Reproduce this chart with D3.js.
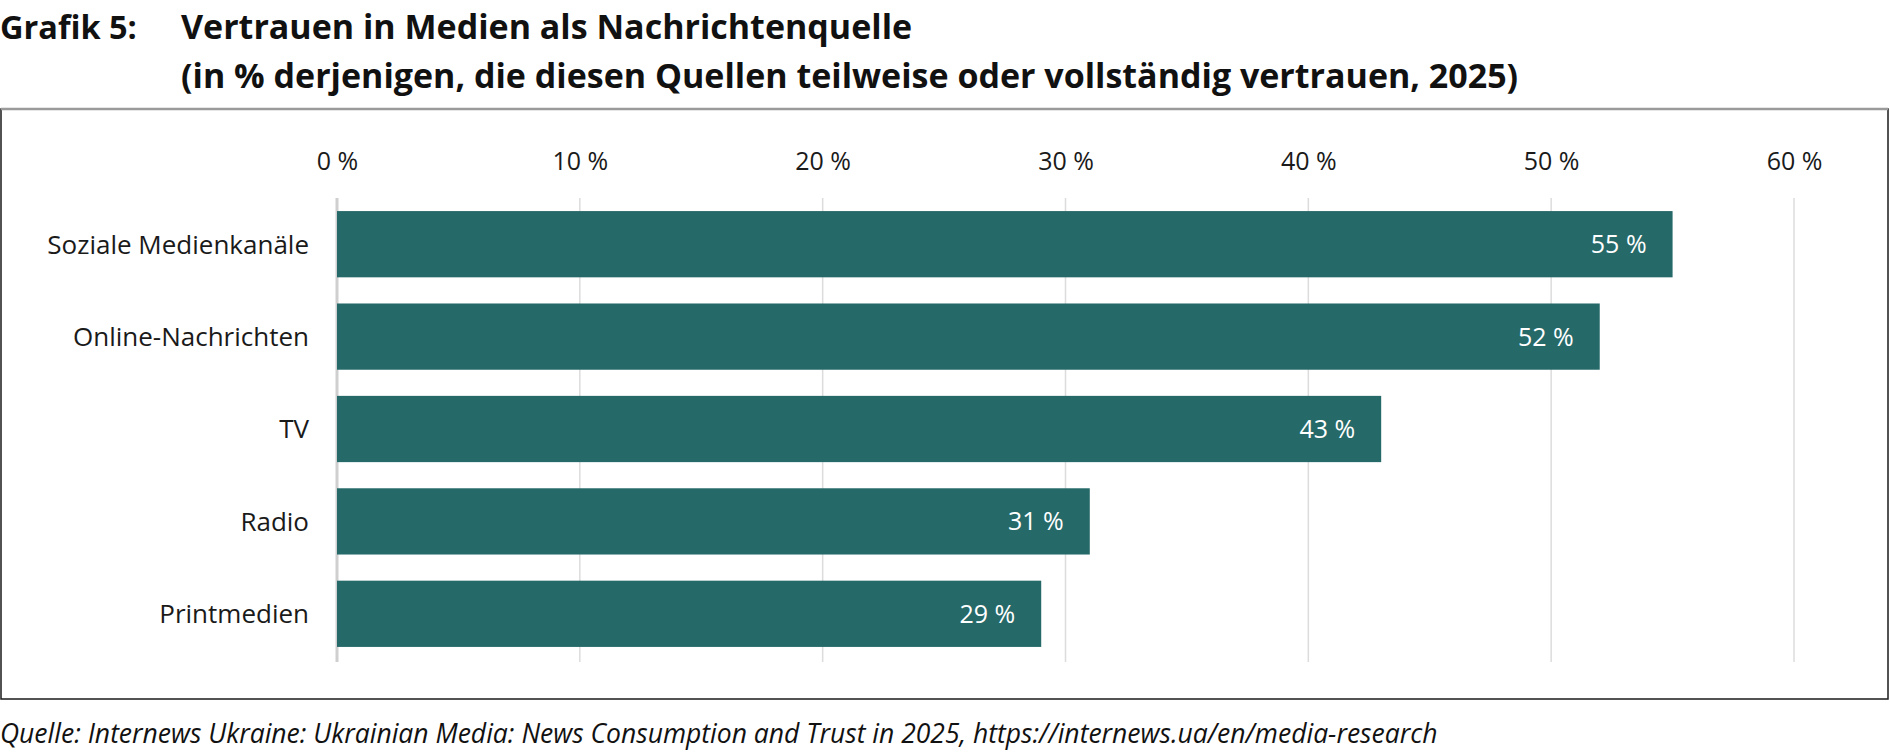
<!DOCTYPE html>
<html>
<head>
<meta charset="utf-8">
<script src="https://cdn.jsdelivr.net/npm/d3@7"></script>
<style>
  html, body { margin: 0; padding: 0; background: #fff; }
  svg { display: block; }
  text { font-family: "Open Sans", Lato, sans-serif; }
</style>
</head>
<body>
<svg id="chart" width="1890" height="756"></svg>
<script>
const categories = ["Soziale Medienkanäle", "Online-Nachrichten", "TV", "Radio", "Printmedien"];
const values = [55, 52, 43, 31, 29];
const tickValues = [0, 10, 20, 30, 40, 50, 60];
const titleLabel = "Grafik 5:";
const titleLines = ["Vertrauen in Medien als Nachrichtenquelle",
  "(in % derjenigen, die diesen Quellen teilweise oder vollständig vertrauen, 2025)"];
const sourceText = "Quelle: Internews Ukraine: Ukrainian Media: News Consumption and Trust in 2025, https://internews.ua/en/media-research";

const svg = d3.select("#chart");

// title
svg.append("text").attr("x", 0).attr("y", 39)
  .attr("font-size", 32.5).attr("font-weight", 700).attr("fill", "#111")
  .text(titleLabel);
svg.selectAll("text.title").data(titleLines).join("text")
  .attr("class", "title")
  .attr("x", 181).attr("y", (d, i) => 39 + i * 49)
  .attr("font-size", 34).attr("font-weight", 700).attr("fill", "#111")
  .text(d => d);

// frame
const box = {x: 1, y: 109, w: 1887, h: 590};
svg.append("rect").attr("x", box.x).attr("y", box.y).attr("width", box.w).attr("height", box.h)
  .attr("fill", "none").attr("stroke", "#1a1a1a").attr("stroke-width", 1.5);
svg.append("line").attr("x1", box.x).attr("x2", box.x + box.w).attr("y1", box.y).attr("y2", box.y)
  .attr("stroke", "#9a9a9a").attr("stroke-width", 2.5);

// scales
const x = d3.scaleLinear().domain([0, 60]).range([337, 1794]);
const y = d3.scaleBand().domain(categories).range([198, 660]).paddingInner(0.283).paddingOuter(0.1415);

// gridlines
svg.append("g").selectAll("line").data(tickValues).join("line")
  .attr("x1", d => x(d)).attr("x2", d => x(d))
  .attr("y1", 198).attr("y2", 662)
  .attr("stroke", d => d === 0 ? "#cfcfcf" : "#dcdcdc")
  .attr("stroke-width", d => d === 0 ? 3 : 1.5);

// top axis labels
const axis = d3.axisTop(x).tickValues(tickValues).tickSize(0).tickPadding(0)
  .tickFormat(d => d + " %");
const ag = svg.append("g").attr("transform", "translate(0,170)").call(axis);
ag.select(".domain").remove();
ag.selectAll("text").attr("font-size", 25).attr("fill", "#1a1a1a")
  .attr("font-family", "'Open Sans', Lato, sans-serif").attr("dy", 0);

// bars
svg.append("g").selectAll("rect").data(values).join("rect")
  .attr("x", x(0)).attr("y", (d, i) => y(categories[i]))
  .attr("width", d => x(d) - x(0)).attr("height", y.bandwidth())
  .attr("fill", "#266969");

// category labels
svg.append("g").selectAll("text").data(categories).join("text")
  .attr("x", 309).attr("y", d => y(d) + y.bandwidth() / 2)
  .attr("dy", "0.36em").attr("text-anchor", "end")
  .attr("font-size", 26).attr("fill", "#1a1a1a")
  .text(d => d);

// value labels
svg.append("g").selectAll("text").data(values).join("text")
  .attr("x", d => x(d) - 26).attr("y", (d, i) => y(categories[i]) + y.bandwidth() / 2)
  .attr("dy", "0.36em").attr("text-anchor", "end")
  .attr("font-size", 25).attr("fill", "#fff")
  .text(d => d + " %");

// source
svg.append("text").attr("x", 0).attr("y", 743)
  .attr("font-size", 26.5).attr("font-style", "italic").attr("fill", "#111")
  .text(sourceText);
</script>
</body>
</html>
